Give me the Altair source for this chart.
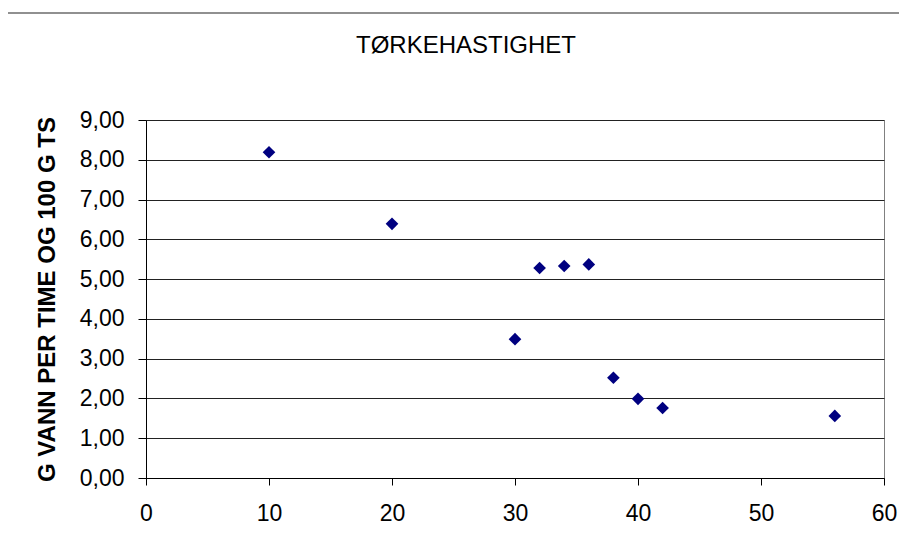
import altair as alt
import pandas as pd

x_vals = [10, 20, 30, 32, 34, 36, 38, 40, 42, 56]
y_vals = [8.19, 6.39, 3.49, 5.28, 5.33, 5.37, 2.52, 1.99, 1.76, 1.56]
title_text = "TØRKEHASTIGHET"
y_title = "G VANN PER TIME OG 100 G TS"

df = pd.DataFrame({"x": x_vals, "y": y_vals})
FONT = "Liberation Sans"

points = alt.Chart(df).mark_point(
    shape="diamond", filled=True, color="#000080", size=160, opacity=1
).encode(
    x=alt.X("x:Q", scale=alt.Scale(domain=[0, 60], nice=False),
            axis=alt.Axis(values=[0, 10, 20, 30, 40, 50, 60], title=None, grid=False,
                          tickSize=7, tickColor="#000", domainColor="#000",
                          labelFontSize=23, labelFont=FONT, labelColor="#000",
                          labelPadding=17, labelFlush=False)),
    y=alt.Y("y:Q", scale=alt.Scale(domain=[0, 9], nice=False),
            axis=alt.Axis(values=[0, 1, 2, 3, 4, 5, 6, 7, 8, 9], title=y_title,
                          grid=True, gridColor="#222", gridOpacity=1,
                          tickSize=8, tickColor="#000", domainColor="#000",
                          labelFontSize=23, labelFont=FONT, labelColor="#000",
                          labelPadding=14, labelFlush=False,
                          labelExpr="replace(format(datum.value, '.2f'), '.', ',')",
                          titleFontSize=24, titleFont=FONT, titleFontWeight="bold",
                          titleColor="#000", titleX=-99, titleY=179,
                          titleAngle=270, titleAlign="center", titleBaseline="middle")),
)

title = alt.Chart(pd.DataFrame({"t": [title_text]})).mark_text(
    font=FONT, fontSize=24, color="#000", baseline="middle", align="center"
).encode(text="t:N", x=alt.value(320), y=alt.value(-74))

frame_top = alt.Chart(pd.DataFrame({"a": [0]})).mark_rule(color="#222", strokeWidth=1.2).encode(
    x=alt.value(-140), x2=alt.value(760), y=alt.value(-107))
frame_left = alt.Chart(pd.DataFrame({"a": [0]})).mark_rule(color="#222", strokeWidth=1.2).encode(
    x=alt.value(-140), y=alt.value(-107), y2=alt.value(440))

chart = alt.layer(frame_top, frame_left, title, points).properties(
    width=738, height=358,
    autosize=alt.AutoSizeParams(type="none"),
    padding={"left": 138, "top": 112, "right": 15, "bottom": 55},
).configure_view(stroke="#808080", strokeWidth=1)

chart.save("out.html", embed_options={"renderer": "svg", "actions": False})
